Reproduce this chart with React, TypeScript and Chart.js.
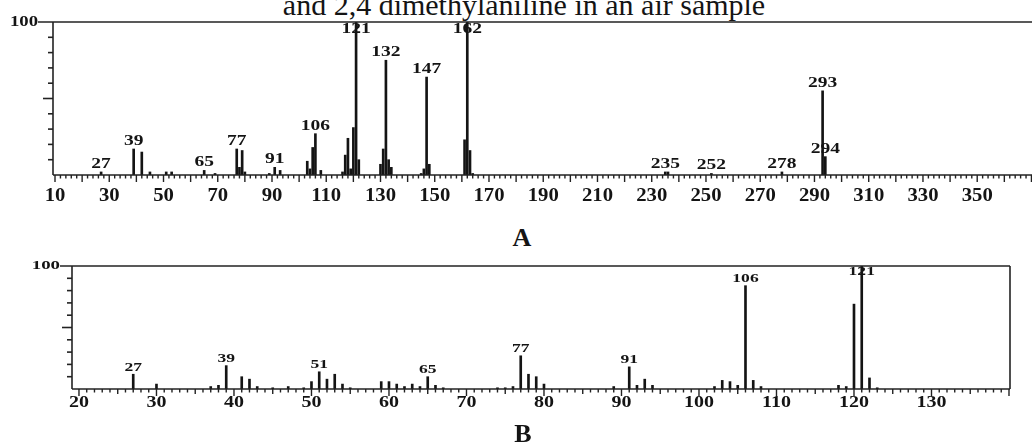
import React, { useEffect, useRef } from "react";
import { Chart, registerables } from "chart.js";

Chart.register(...registerables);

// ---------- Spectrum A (top) ----------
const mzA = [27, 39, 42, 45, 51, 53, 65, 69, 77, 78, 79, 80, 89, 91, 93, 103, 104, 105, 106, 108, 116, 117, 118, 119, 120, 121, 122, 130, 131, 132, 133, 134, 145, 146, 147, 148, 161, 162, 163, 164, 235, 236, 252, 278, 293, 294];
const intA = [2, 17, 15, 2, 2, 2, 3, 1, 17, 5, 16, 2, 1, 5, 3, 9, 4, 18, 27, 3, 2, 13, 24, 4, 31, 100, 10, 7, 17, 75, 10, 5, 1, 4, 64, 7, 23, 100, 16, 1, 2, 2, 1, 2, 55, 12];
const peakLabelsA = [27, 39, 65, 77, 91, 106, 121, 132, 147, 162, 235, 252, 278, 293, 294];
const tickLabelsA = [10, 30, 50, 70, 90, 110, 130, 150, 170, 190, 210, 230, 250, 270, 290, 310, 330, 350];

// ---------- Spectrum B (bottom) ----------
const mzB = [27, 30, 37, 38, 39, 41, 42, 43, 45, 47, 49, 50, 51, 52, 53, 54, 55, 59, 60, 61, 62, 63, 64, 65, 66, 67, 74, 75, 76, 77, 78, 79, 80, 89, 91, 92, 93, 94, 102, 103, 104, 105, 106, 107, 108, 118, 119, 120, 121, 122, 123];
const intB = [12, 4, 2, 3, 19, 10, 8, 2, 1, 2, 1, 6, 14, 8, 12, 4, 1, 6, 6, 4, 2, 4, 2, 10, 3, 1, 1, 1, 2, 27, 12, 10, 4, 2, 18, 3, 8, 3, 2, 7, 6, 3, 84, 7, 2, 3, 2, 69, 100, 9, 1];
const peakLabelsB = [27, 39, 51, 65, 77, 91, 106, 121];
const tickLabelsB = [20, 30, 40, 50, 60, 70, 80, 90, 100, 110, 120, 130];

const TITLE = "and 2,4 dimethylaniline in an air sample";
const SERIF = '"Liberation Serif", "Times New Roman", serif';
const INK = "#141414";

function drawText(ctx: CanvasRenderingContext2D, text: string, x: number, y: number, size: number, sx: number, align: CanvasTextAlign) {
  ctx.save();
  ctx.font = `bold ${size}px ${SERIF}`;
  ctx.fillStyle = INK;
  ctx.textBaseline = "middle";
  ctx.textAlign = align;
  ctx.translate(x, y);
  ctx.scale(sx, 1);
  ctx.fillText(text, 0, 0);
  ctx.restore();
}

function line(ctx: CanvasRenderingContext2D, x1: number, y1: number, x2: number, y2: number) {
  ctx.beginPath();
  ctx.moveTo(x1, y1);
  ctx.lineTo(x2, y2);
  ctx.stroke();
}

type Cfg = {
  mz: number[];
  inten: number[];
  peakLabels: number[];
  tickLabels: number[];
  minorStep: number;
  tickStart: number;
  frameRight: boolean;
  topExtend: number;
  tickLabelSize: number;
  tickLabelSx: number;
  tickLabelDy: number;
  peakSize: number;
  peakSx: number;
  peakDy: number;
  peakMinDy: number;
  yLabelSize: number;
  yLabelSx: number;
  lw: number;
};

function makePlugin(cfg: Cfg) {
  return {
    id: "spectrumAxes",
    afterDatasetsDraw(chart: any) {
      const ctx: CanvasRenderingContext2D = chart.ctx;
      const { left, right, top } = chart.chartArea;
      const xs = chart.scales.x;
      const ys = chart.scales.y;
      ctx.save();
      ctx.strokeStyle = "#222";
      ctx.lineWidth = cfg.lw;
      const yTop = ys.getPixelForValue(100);
      const yBase = ys.getPixelForValue(0);
      // frame
      line(ctx, left - cfg.topExtend, yTop, right, yTop);
      line(ctx, left, yTop, left, yBase);
      line(ctx, left, yBase, right, yBase);
      if (cfg.frameRight) line(ctx, right, yTop, right, yBase);
      // y ticks
      ctx.lineWidth = 1.6;
      for (let v = 10; v < 100; v += 10) {
        const y = ys.getPixelForValue(v);
        const len = v === 50 ? 10 : 5;
        line(ctx, left - len, y, left, y);
      }
      // x ticks
      const max = xs.max;
      ctx.lineWidth = 1.4;
      for (let v = cfg.tickStart; v <= max + 0.01; v += cfg.minorStep) {
        const x = xs.getPixelForValue(v);
        if (x > right + 0.5) break;
        let len = 3.5;
        if (v % 10 === 0) len = 7;
        else if (cfg.minorStep === 1 && v % 5 === 0) len = 5;
        line(ctx, x, yBase, x, yBase + len);
      }
      ctx.restore();
      // tick labels
      for (const t of cfg.tickLabels) {
        drawText(ctx, String(t), xs.getPixelForValue(t), yBase + cfg.tickLabelDy, cfg.tickLabelSize, cfg.tickLabelSx, "center");
      }
      drawText(ctx, "100", left - cfg.topExtend, yTop, cfg.yLabelSize, cfg.yLabelSx, "right");
      // peak labels
      for (const m of cfg.peakLabels) {
        const i = cfg.mz.indexOf(m);
        if (i < 0) continue;
        const yb = ys.getPixelForValue(cfg.inten[i]);
        const cy = Math.max(yb - cfg.peakDy, top + cfg.peakMinDy);
        drawText(ctx, String(m), xs.getPixelForValue(m), cy, cfg.peakSize, cfg.peakSx, "center");
      }
    },
  };
}

function buildChart(canvas: HTMLCanvasElement, cfg: Cfg, xmin: number, xmax: number, padding: any) {
  return new Chart(canvas, {
    type: "bar",
    data: {
      datasets: [
        {
          data: cfg.mz.map((m, i) => ({ x: m, y: cfg.inten[i] })),
          backgroundColor: INK,
          borderWidth: 0,
          barThickness: 2,
          grouped: false,
        } as any,
      ],
    },
    options: {
      responsive: false,
      maintainAspectRatio: false,
      animation: false,
      devicePixelRatio: 1,
      layout: { padding },
      plugins: { legend: { display: false }, tooltip: { enabled: false } },
      scales: {
        x: { type: "linear", min: xmin, max: xmax, offset: false, display: false, grid: { display: false, offset: false } },
        y: { type: "linear", min: 0, max: 100, display: false, grid: { display: false } },
      },
    },
    plugins: [makePlugin(cfg)],
  } as any);
}

export default function App() {
  const topRef = useRef<HTMLCanvasElement>(null);
  const botRef = useRef<HTMLCanvasElement>(null);

  useEffect(() => {
    const cfgA: Cfg = {
      mz: mzA, inten: intA, peakLabels: peakLabelsA, tickLabels: tickLabelsA,
      minorStep: 2, tickStart: 10, frameRight: false, topExtend: 15,
      tickLabelSize: 18, tickLabelSx: 1.15, tickLabelDy: 21,
      peakSize: 15, peakSx: 1.3, peakDy: 8, peakMinDy: 7,
      yLabelSize: 15, yLabelSx: 1.25, lw: 1.6,
    };
    const cfgB: Cfg = {
      mz: mzB, inten: intB, peakLabels: peakLabelsB, tickLabels: tickLabelsB,
      minorStep: 1, tickStart: 20, frameRight: true, topExtend: 12,
      tickLabelSize: 16, tickLabelSx: 1.25, tickLabelDy: 14,
      peakSize: 13, peakSx: 1.35, peakDy: 7, peakMinDy: 6,
      yLabelSize: 13, yLabelSx: 1.45, lw: 1.6,
    };
    const a = buildChart(topRef.current!, cfgA, 9.26, 370.2, { left: 53, right: 0, top: 22, bottom: 40 });
    const b = buildChart(botRef.current!, cfgB, 19.1, 140.13, { left: 72, right: 22, top: 16, bottom: 31 });
    return () => {
      a.destroy();
      b.destroy();
    };
  }, []);

  return (
    <div style={{ position: "fixed", left: 0, top: 0, width: 1032, height: 444, overflow: "hidden", background: "#fff" }}>
      <div style={{ position: "absolute", left: 524, top: -10, transform: "translateX(-50%)", whiteSpace: "nowrap", font: `30px/29px ${SERIF}`, color: INK }}>
        {TITLE}
      </div>
      <canvas ref={topRef} width={1032} height={215} style={{ position: "absolute", left: 0, top: 0, width: 1032, height: 215 }} />
      <div style={{ position: "absolute", left: 522, top: 225, transform: "translateX(-50%)", font: `bold 26px/26px ${SERIF}`, color: INK }}>A</div>
      <canvas ref={botRef} width={1032} height={170} style={{ position: "absolute", left: 0, top: 250, width: 1032, height: 170 }} />
      <div style={{ position: "absolute", left: 523, top: 421, transform: "translateX(-50%)", font: `bold 26px/26px ${SERIF}`, color: INK }}>B</div>
    </div>
  );
}
